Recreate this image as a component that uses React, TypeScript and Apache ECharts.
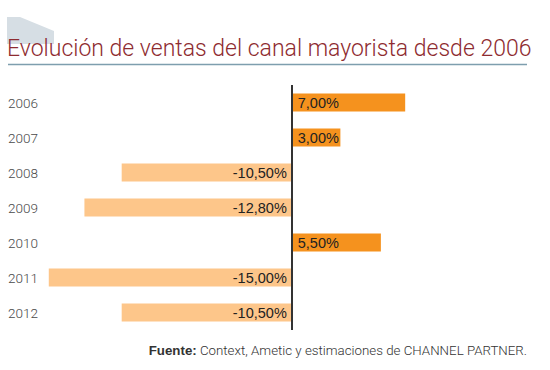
import React, { useEffect, useRef } from "react";
import * as echarts from "echarts";

const years = ["2006", "2007", "2008", "2009", "2010", "2011", "2012"];
const growth = [7.0, 3.0, -10.5, -12.8, 5.5, -15.0, -10.5];
const titleText = "Evolución de ventas del canal mayorista desde 2006";
const sourceLabel = "Fuente:";
const sourceText = " Context, Ametic y estimaciones de CHANNEL PARTNER.";

const POS = "#F5921E";
const NEG = "#FDC68A";

export default function App() {
  const ref = useRef<HTMLDivElement>(null);
  useEffect(() => {
    if (!ref.current) return;
    const chart = echarts.init(ref.current, null, { renderer: "svg" });
    const fmt = (v: number) => v.toFixed(2).replace(".", ",") + "%";
    chart.setOption({
      animation: false,
      backgroundColor: "#ffffff",
      grid: { left: 18, width: 437.4, top: 85, height: 245, containLabel: false },
      xAxis: {
        type: "value",
        min: -16.9,
        max: 10.1,
        show: false,
      },
      yAxis: {
        type: "category",
        data: years,
        inverse: true,
        axisLine: { show: false },
        axisTick: { show: false },
        splitLine: { show: false },
        axisLabel: {
          align: "left",
          margin: 10,
          color: "#4a4a4a",
          fontFamily: "Roboto",
          fontWeight: 300,
          fontSize: 13.5,
        },
      },
      series: [
        {
          type: "bar",
          barWidth: 18,
          data: growth.map((v) => ({
            value: v,
            itemStyle: { color: v >= 0 ? POS : NEG },
            label: {
              position: v >= 0 ? "insideLeft" : "insideRight",
              distance: v >= 0 ? 6 : 5,
            },
          })),
          label: {
            show: true,
            formatter: (p: any) => fmt(p.value),
            color: "#222222",
            fontFamily: "Liberation Sans",
            fontSize: 14.5,
          },
          markLine: {
            silent: true,
            symbol: "none",
            label: { show: false },
            lineStyle: { color: "#333333", width: 2, type: "solid" },
            data: [{ xAxis: 0 }],
          },
        },
      ],
      graphic: [
        {
          type: "polygon",
          shape: {
            points: [
              [7, 17],
              [20, 17],
              [54, 31],
              [54, 44],
              [7, 44],
            ],
          },
          style: { fill: "#D6DEE4" },
          z: 1,
        },
        {
          type: "text",
          x: 7,
          y: 37,
          z: 2,
          style: {
            text: titleText,
            fill: "#8E2B30",
            fontFamily: "Roboto",
            fontWeight: 300,
            fontSize: 23,
          },
        },
        {
          type: "line",
          shape: { x1: 8, y1: 64.5, x2: 527, y2: 64.5 },
          style: { stroke: "#7E9EAE", lineWidth: 1.5 },
        },
        {
          type: "text",
          right: 23,
          y: 344,
          style: {
            text: "{b|" + sourceLabel + "}{r|" + sourceText + "}",
            rich: {
              b: { fontFamily: "Liberation Sans", fontWeight: "bold", fontSize: 13.3, fill: "#333333" },
              r: { fontFamily: "Roboto", fontWeight: 300, fontSize: 13.3, fill: "#333333" },
            },
          },
        },
      ],
    });
    return () => chart.dispose();
  }, []);
  return <div ref={ref} style={{ width: 550, height: 370, position: "absolute", left: 0, top: 0 }} />;
}
